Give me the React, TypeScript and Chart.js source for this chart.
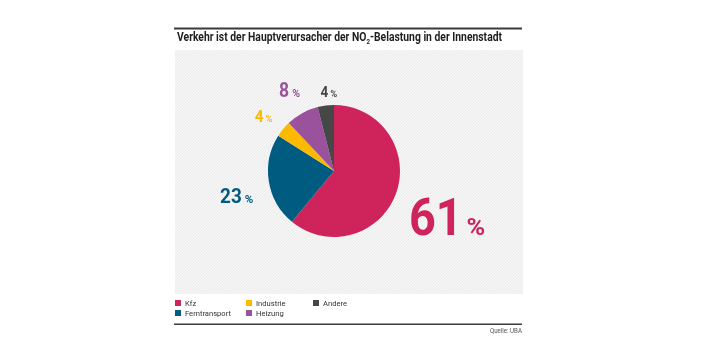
import { useEffect, useRef } from 'react';
import { Chart, registerables } from 'chart.js';

Chart.register(...registerables);

// ---- data ----
const categories = ['Kfz', 'Ferntransport', 'Industrie', 'Heizung', 'Andere'];
const shares = [61, 23, 4, 8, 4];
const sliceColors = ['#cf235c', '#005b80', '#fbb900', '#9a529c', '#474747'];
const titleParts = ['Verkehr ist der Hauptverursacher der NO', '2', '-Belastung in der Innenstadt'];
const sourceText = 'Quelle: UBA';

// ---- label styles (not data) ----
const labelStyles = [
  { num: 52, pct: 24, dist: 1.845, shift: 2, gap: 4 },
  { num: 21, pct: 11, dist: 1.52, shift: -5, gap: 3 },
  { num: 17, pct: 9, dist: 1.355, shift: -1.6, gap: 2 },
  { num: 19.5, pct: 10, dist: 1.4, shift: 0, gap: 3 },
  { num: 15, pct: 9, dist: 1.21, shift: 3.6, gap: 2 },
];

const FONT = 'Roboto, "Noto Sans", sans-serif';
const FRAME = { left: 174, right: 522 };

function textW(ctx: CanvasRenderingContext2D, t: string, font: string) {
  ctx.font = font;
  return ctx.measureText(t).width;
}

function drawScaled(ctx: CanvasRenderingContext2D, t: string, x: number, y: number, font: string, sx: number) {
  ctx.save();
  ctx.font = font;
  const w = ctx.measureText(t).width * sx;
  ctx.translate(x, y);
  ctx.scale(sx, 1);
  ctx.fillText(t, 0, 0);
  ctx.restore();
  return w;
}

const decorPlugin = {
  id: 'decor',
  beforeDraw(chart: any) {
    const ctx: CanvasRenderingContext2D = chart.ctx;
    ctx.save();
    ctx.fillStyle = '#ffffff';
    ctx.fillRect(0, 0, chart.width, chart.height);

    // hatched panel
    const x0 = 175, x1 = 523, y0 = 50, y1 = 294;
    ctx.fillStyle = '#f5f5f5';
    ctx.fillRect(x0, y0, x1 - x0, y1 - y0);
    ctx.save();
    ctx.beginPath();
    ctx.rect(x0, y0, x1 - x0, y1 - y0);
    ctx.clip();
    ctx.strokeStyle = '#ebebeb';
    ctx.lineWidth = 1;
    const h = y1 - y0;
    for (let k = -h; k < x1 - x0 + h; k += 3) {
      ctx.beginPath();
      ctx.moveTo(x0 + k, y1);
      ctx.lineTo(x0 + k + h, y0);
      ctx.stroke();
    }
    ctx.restore();

    // frame lines
    ctx.fillStyle = '#3a3a3a';
    ctx.fillRect(FRAME.left, 27.5, FRAME.right - FRAME.left, 2);
    ctx.fillRect(FRAME.left, 323.5, FRAME.right - FRAME.left, 1.5);

    // title
    ctx.fillStyle = '#1e1e1e';
    ctx.textBaseline = 'alphabetic';
    ctx.textAlign = 'left';
    const tf = `bold 13.5px ${FONT}`;
    const sf = `bold 8px ${FONT}`;
    const natural = textW(ctx, titleParts[0], tf) + textW(ctx, titleParts[1], sf) + textW(ctx, titleParts[2], tf);
    const sx = 325 / natural;
    let x = 177;
    x += drawScaled(ctx, titleParts[0], x, 40.5, tf, sx);
    x += drawScaled(ctx, titleParts[1], x, 43.5, sf, sx);
    drawScaled(ctx, titleParts[2], x, 40.5, tf, sx);

    // legend (column-major, 2 rows)
    const colX = [175, 246, 313];
    const rowY = [303, 313];
    const labels: string[] = chart.data.labels;
    const colors: string[] = chart.data.datasets[0].backgroundColor;
    labels.forEach((lab, i) => {
      const cx = colX[Math.floor(i / 2)];
      const cy = rowY[i % 2];
      ctx.fillStyle = colors[i];
      ctx.fillRect(cx, cy - 3, 6, 6);
      ctx.fillStyle = '#333333';
      drawScaled(ctx, lab, cx + 10, cy + 3, `8px ${FONT}`, 0.95);
    });

    // source
    ctx.fillStyle = '#555555';
    const qf = `6.5px ${FONT}`;
    const qw = textW(ctx, sourceText, qf) * 0.95;
    drawScaled(ctx, sourceText, FRAME.right - qw, 333, qf, 0.95);
    ctx.restore();
  },
  afterDatasetsDraw(chart: any) {
    const ctx: CanvasRenderingContext2D = chart.ctx;
    const meta = chart.getDatasetMeta(0);
    const values: number[] = chart.data.datasets[0].data;
    const colors: string[] = chart.data.datasets[0].backgroundColor;
    ctx.save();
    ctx.textBaseline = 'alphabetic';
    ctx.textAlign = 'left';
    meta.data.forEach((arc: any, i: number) => {
      const st = labelStyles[i];
      const p = arc.getProps(['x', 'y', 'startAngle', 'endAngle', 'outerRadius'], true);
      const mid = (p.startAngle + p.endAngle) / 2 + (st.shift * Math.PI) / 180;
      const cx = p.x + Math.cos(mid) * p.outerRadius * st.dist;
      const cy = p.y + Math.sin(mid) * p.outerRadius * st.dist;
      const numFont = `bold ${st.num}px ${FONT}`;
      const pctFont = `bold ${st.pct}px ${FONT}`;
      const numText = String(values[i]);
      const sxN = 0.9;
      const wN = textW(ctx, numText, numFont) * sxN;
      const wP = textW(ctx, '%', pctFont) * 1.05;
      const total = wN + st.gap + wP;
      const baseY = cy + (st.num * 0.711) / 2;
      ctx.fillStyle = colors[i];
      drawScaled(ctx, numText, cx - total / 2, baseY, numFont, sxN);
      drawScaled(ctx, '%', cx - total / 2 + wN + st.gap, baseY, pctFont, 1.05);
    });
    ctx.restore();
  },
};

export default function App() {
  const ref = useRef<HTMLCanvasElement | null>(null);
  useEffect(() => {
    if (!ref.current) return;
    const chart = new Chart(ref.current, {
      type: 'pie',
      data: {
        labels: categories,
        datasets: [
          {
            data: shares,
            backgroundColor: sliceColors,
            borderWidth: 0,
            hoverOffset: 0,
          },
        ],
      },
      options: {
        responsive: false,
        animation: false,
        devicePixelRatio: 1,
        events: [],
        layout: { padding: { left: 268, right: 307, top: 105, bottom: 117 } },
        plugins: {
          legend: { display: false },
          tooltip: { enabled: false },
          title: { display: false },
        },
      },
      plugins: [decorPlugin],
    } as any);
    return () => chart.destroy();
  }, []);
  return (
    <div style={{ position: 'absolute', left: 0, top: 0, width: 707, height: 354, background: '#fff' }}>
      <canvas ref={ref} width={707} height={354} style={{ display: 'block' }} />
    </div>
  );
}
